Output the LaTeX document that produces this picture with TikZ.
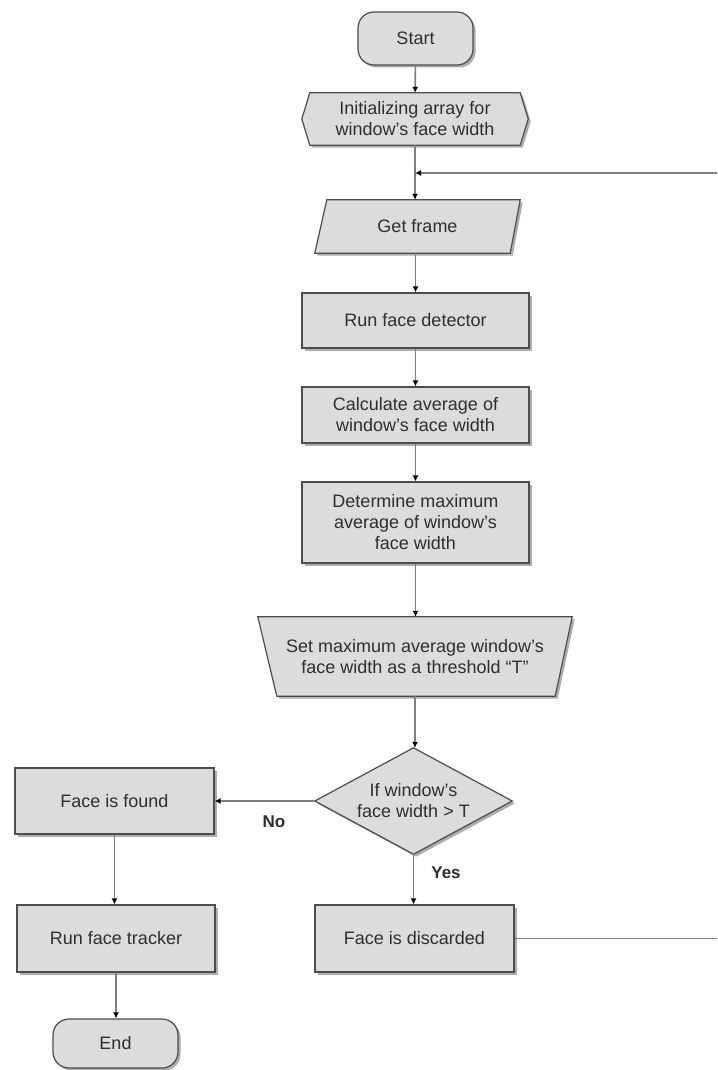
\documentclass[tikz,border=0pt]{standalone}
\usepackage{fontspec}
\setmainfont{Liberation Sans}
\usetikzlibrary{arrows.meta,shadows,calc,backgrounds}
\definecolor{boxfill}{HTML}{DCDCDC}
\definecolor{boxline}{HTML}{4D4D4D}
\definecolor{connclr}{HTML}{7F7F7F}
\definecolor{txtclr}{HTML}{2E2E2E}
\begin{document}
\begin{tikzpicture}[x=1pt,y=-1pt,
  shadowed/.style={drop shadow={shadow xshift=2.5pt,shadow yshift=-2.5pt,fill=black!40,opacity=0.8}},
  boxstyle/.style={draw=boxline,fill=boxfill,line width=1.2pt,shadowed},
  txtstyle/.style={font=\fontsize{18}{21}\selectfont,text=txtclr,align=center,inner sep=0pt},
  procbox/.style={rectangle,boxstyle,txtstyle},
  termbox/.style={procbox,rounded corners=16pt},
  textonly/.style={rectangle,txtstyle,draw=none,fill=none},
  conn/.style={draw=connclr,line width=1.6pt,-{Latex[length=6pt,width=6pt,color=black]}},
  connplain/.style={draw=connclr,line width=1.6pt},
  yesno/.style={font=\bfseries\fontsize{17}{20}\selectfont,text=txtclr,inner sep=0pt}]
\useasboundingbox (0,0) rectangle (717,1070);

% nodes
\node[termbox,minimum width=115,minimum height=53] (start) at (415.5,38.5) {Start};
\node[textonly,minimum width=226,minimum height=52] (init) at (415,119) {Initializing array for\\window's face width};
\node[textonly,minimum width=205,minimum height=53] (frame) at (417.5,226.5) {Get frame};
\node[procbox,minimum width=227,minimum height=55] (detect) at (415.5,320.5) {Run face detector};
\node[procbox,minimum width=227,minimum height=56] (calc) at (415.5,415) {Calculate average of\\window's face width};
\node[procbox,minimum width=227,minimum height=81] (determine) at (415.5,522.5) {Determine maximum\\average of window's\\face width};
\node[textonly,minimum width=314,minimum height=79] (setT) at (415,656.5) {Set maximum average window's\\face width as a threshold ``T''};
\node[textonly,minimum width=197,minimum height=106] (dec) at (413.5,801) {If window's\\face width > T};
\node[procbox,minimum width=199,minimum height=66] (found) at (114.5,801) {Face is found};
\node[procbox,minimum width=198,minimum height=67] (tracker) at (116,938.5) {Run face tracker};
\node[procbox,minimum width=199,minimum height=67] (discard) at (414.5,938.5) {Face is discarded};
\node[termbox,minimum width=125,minimum height=49] (end) at (115.5,1043.5) {End};

% custom outlines
\begin{scope}[on background layer]
  \fill[white] (0,0) rectangle (717,1070);
  \draw[boxstyle] (init.west) -- ($(init.north west)+(8,0)$) -- ($(init.north east)+(-8,0)$)
    -- (init.east) -- ($(init.south east)+(-8,0)$) -- ($(init.south west)+(8,0)$) -- cycle;
  \draw[boxstyle] (frame.south west) -- ($(frame.south east)+(-10,0)$) -- (frame.north east)
    -- ($(frame.north west)+(12,0)$) -- cycle;
  \draw[boxstyle] (setT.north west) -- (setT.north east) -- ($(setT.south east)+(-17,0)$)
    -- ($(setT.south west)+(19,0)$) -- cycle;
  \draw[boxstyle] (dec.north) -- (dec.east) -- (dec.south) -- (dec.west) -- cycle;
\end{scope}

% connectors
\coordinate (loopin) at (717,173);
\coordinate (junction) at (init.south |- loopin);
\coordinate (loopout) at (717,938.5);
\draw[conn] (start) -- (init);
\draw[conn] (init.south) -- (init.south |- frame.north);
\draw[conn] (loopin) -- (junction);
\draw[conn] (frame.south -| detect.north) -- (detect.north);
\draw[conn] (detect) -- (calc);
\draw[conn] (calc) -- (determine);
\draw[conn] (determine) -- (determine.south |- setT.north);
\draw[conn] (setT.south) -- (setT.south |- dec.north);
\draw[conn] (dec.west) -- (found.east);
\draw[conn] (dec.south) -- (dec.south |- discard.north);
\draw[conn] (found.south) -- (found.south |- tracker.north);
\draw[conn] (tracker.south) -- (tracker.south |- end.north);
\draw[connplain] (discard.east) -- (loopout);

% labels
\node[yesno] (nolbl) at (274,822) {No};
\node[yesno] (yeslbl) at (446,873) {Yes};
\end{tikzpicture}
\end{document}
